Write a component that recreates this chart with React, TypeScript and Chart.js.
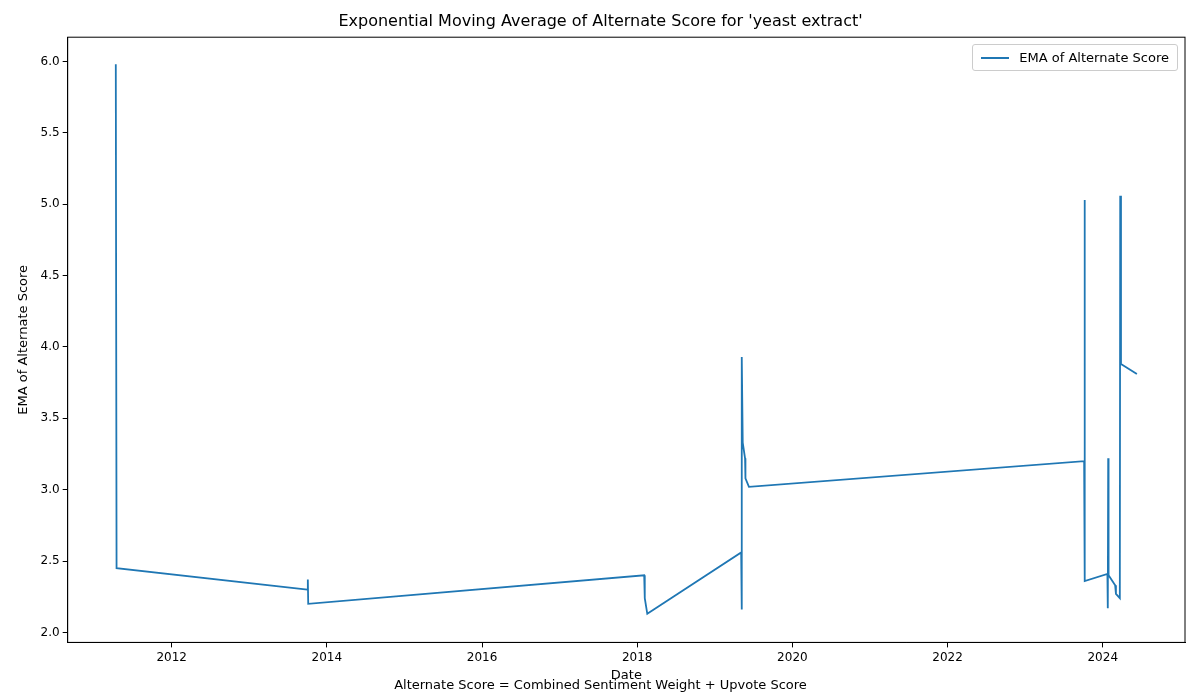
import { useEffect, useRef } from "react"
import { Chart, registerables } from "chart.js"

Chart.register(...registerables)

// decimal years
const dates = [
  2011.28, 2011.29, 2013.75, 2013.755, 2013.76, 2018.09, 2018.095, 2018.1, 2018.13,
  2019.34, 2019.345, 2019.35, 2019.36, 2019.39, 2019.395, 2019.44, 2023.76, 2023.765,
  2023.77, 2024.06, 2024.065, 2024.07, 2024.075, 2024.16, 2024.17, 2024.22, 2024.225,
  2024.235, 2024.44,
]
const ema = [
  5.98, 2.45, 2.30, 2.37, 2.20, 2.40, 2.27, 2.24, 2.13,
  2.56, 2.16, 3.93, 3.33, 3.22, 3.08, 3.02, 3.20, 5.03,
  2.36, 2.41, 2.17, 3.22, 2.40, 2.33, 2.27, 2.24, 5.06,
  3.88, 3.81,
]
const xTicks = [2012, 2014, 2016, 2018, 2020, 2022, 2024]
const yTicks = [2.0, 2.5, 3.0, 3.5, 4.0, 4.5, 5.0, 5.5, 6.0]

const BLUE = "#1f77b4"
const FONT = "'DejaVu Sans', sans-serif"

export default function App() {
  const canvasRef = useRef<HTMLCanvasElement>(null)
  const chartRef = useRef<Chart | null>(null)

  useEffect(() => {
    if (!canvasRef.current) return
    chartRef.current?.destroy()
    chartRef.current = new Chart(canvasRef.current, {
      type: "line",
      data: {
        datasets: [{
          label: "EMA of Alternate Score",
          data: dates.map((d, i) => ({ x: d, y: ema[i] })),
          borderColor: BLUE,
          borderWidth: 1.8,
          pointRadius: 0,
          tension: 0,
        }],
      },
      options: {
        animation: false,
        responsive: false,
        layout: { padding: { top: 4, right: 15, left: 16, bottom: 3 } },
        plugins: {
          legend: { display: false },
          tooltip: { enabled: false },
          title: { display: true, text: "Exponential Moving Average of Alternate Score for 'yeast extract'", color: "#000", font: { family: FONT, size: 16, weight: "normal" }, padding: { top: 8, bottom: 6 } },
          subtitle: { display: true, position: "bottom", text: "Alternate Score = Combined Sentiment Weight + Upvote Score", color: "#000", font: { family: FONT, size: 13 }, padding: { top: -6, bottom: 4 } },
        },
        scales: {
          x: {
            type: "linear", min: 2010.66, max: 2025.06,
            afterBuildTicks: (s: any) => { s.ticks = xTicks.map(v => ({ value: v })) },
            ticks: { color: "#000", font: { family: FONT, size: 12 }, callback: (v: any) => String(v), maxRotation: 0 },
            grid: { drawOnChartArea: false, color: "#000", tickLength: 5 },
            border: { color: "#000" },
            title: { display: true, text: "Date", color: "#000", font: { family: FONT, size: 13 }, padding: { top: 0, bottom: 0 } },
          },
          y: {
            type: "linear", min: 1.93, max: 6.17,
            afterBuildTicks: (s: any) => { s.ticks = yTicks.map(v => ({ value: v })) },
            ticks: { color: "#000", font: { family: FONT, size: 12 }, callback: (v: any) => Number(v).toFixed(1) },
            grid: { drawOnChartArea: false, color: "#000", tickLength: 5 },
            border: { color: "#000" },
            title: { display: true, text: "EMA of Alternate Score", color: "#000", font: { family: FONT, size: 13 }, padding: { top: 0, bottom: 6 } },
          },
        },
      },
      plugins: [{
        id: "frame",
        afterDraw(c) {
          const { ctx, chartArea: a } = c
          ctx.save()
          ctx.strokeStyle = "#000"
          ctx.lineWidth = 1
          ctx.strokeRect(a.left, a.top, a.right - a.left, a.bottom - a.top)
          ctx.restore()
        },
      }],
    })
    return () => { chartRef.current?.destroy() }
  }, [])

  return (
    <div style={{ position: "absolute", left: 0, top: 0, width: 1200, height: 700, background: "#fff" }}>
      <canvas ref={canvasRef} width={1200} height={700} />
      <div style={{ position: "absolute", right: 22, top: 44, border: "1px solid #ccc", borderRadius: 3, padding: "5px 8px", display: "flex", alignItems: "center", gap: 10, fontFamily: FONT, fontSize: 13, background: "rgba(255,255,255,0.8)" }}>
        <div style={{ width: 28, height: 2, background: BLUE }} />
        EMA of Alternate Score
      </div>
    </div>
  )
}
